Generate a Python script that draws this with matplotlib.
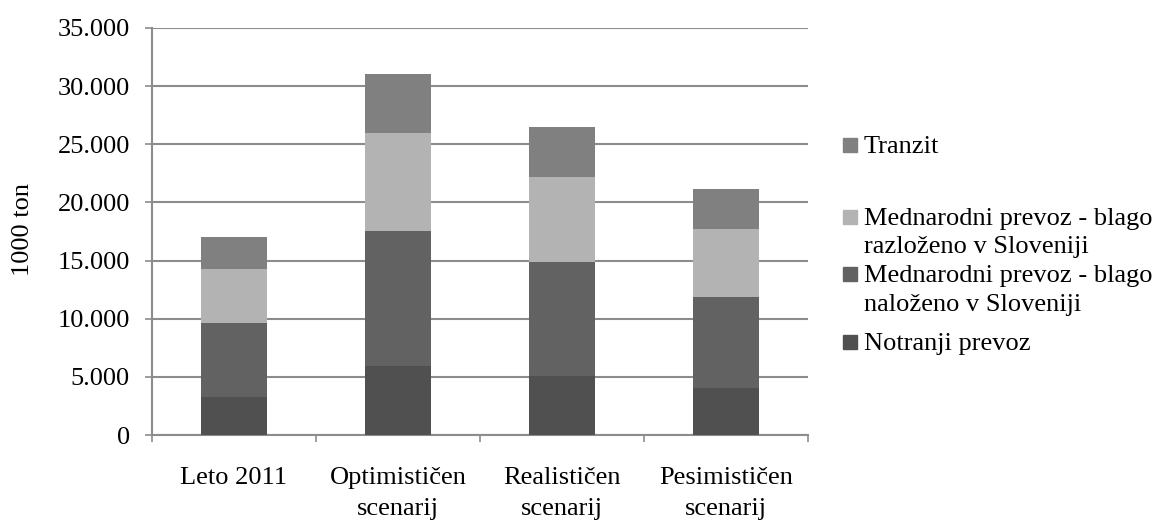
import matplotlib.pyplot as plt
from matplotlib.patches import Rectangle
import numpy as np

plt.rcParams['font.family'] = ['Liberation Serif', 'DejaVu Serif']

categories = ['Leto 2011', 'Optimističen\nscenarij', 'Realističen\nscenarij', 'Pesimističen\nscenarij']
notranji = [3300, 5950, 5100, 4050]
nalozeno = [6300, 11550, 9800, 7850]
razlozeno = [4650, 8500, 7300, 5800]
tranzit = [2750, 5050, 4250, 3450]

series = [
    (['Notranji prevoz'], notranji, '#505050'),
    (['Mednarodni prevoz - blago', 'naloženo v Sloveniji'], nalozeno, '#626262'),
    (['Mednarodni prevoz - blago', 'razloženo v Sloveniji'], razlozeno, '#b3b3b3'),
    (['Tranzit'], tranzit, '#808080'),
]

W, H = 1155, 521
FS = 19
grey = '#8c8c8c'

fig = plt.figure(figsize=(W / 100, H / 100), dpi=100)
ax = fig.add_axes([152 / W, 1 - 435 / H, 656 / W, 407 / H])

x = np.arange(len(categories))
bottom = np.zeros(len(categories))
for label, vals, color in series:
    ax.bar(x, vals, 0.4, bottom=bottom, color=color, zorder=3)
    bottom += np.array(vals)

ax.set_xlim(-0.5, 3.5)
ax.set_ylim(0, 35000)
ax.set_yticks(np.arange(0, 35001, 5000))
ax.set_yticklabels(['0'] + ['{:,}'.format(v).replace(',', '.') for v in range(5000, 35001, 5000)])
ax.yaxis.grid(True, color=grey, linewidth=1.5, zorder=0)

ax.set_xticks(x)
ax.set_xticklabels(categories, linespacing=1.55)
ax.set_xticks(np.arange(-0.5, 3.6, 1), minor=True)
ax.tick_params(axis='x', which='major', length=0, pad=23, labelsize=FS)
ax.tick_params(axis='x', which='minor', length=5, color=grey, width=1.2)
ax.tick_params(axis='y', length=5, color=grey, width=1.2, pad=11, labelsize=FS)

for s in ['top', 'right']:
    ax.spines[s].set_visible(False)
for s in ['left', 'bottom']:
    ax.spines[s].set_color(grey)
    ax.spines[s].set_linewidth(1.5)

ax.set_ylabel('1000 ton', fontsize=FS)
ax.yaxis.set_label_coords(-0.18, 0.506)

# legend drawn by hand so the square sits on the first line like the original
order = [series[3], series[2], series[1], series[0]]
base_list = [[153], [225, 253], [282, 311], [350]]
for (lines, vals, color), bl in zip(order, base_list):
    fig.patches.append(Rectangle((843 / W, 1 - (bl[0] - 1) / H), 14 / W, 14 / H,
                                 transform=fig.transFigure, color=color, figure=fig))
    for line, b in zip(lines, bl):
        fig.text(864 / W, 1 - b / H, line, fontsize=FS, va='baseline', ha='left')

fig.savefig('out.png', dpi=100)
